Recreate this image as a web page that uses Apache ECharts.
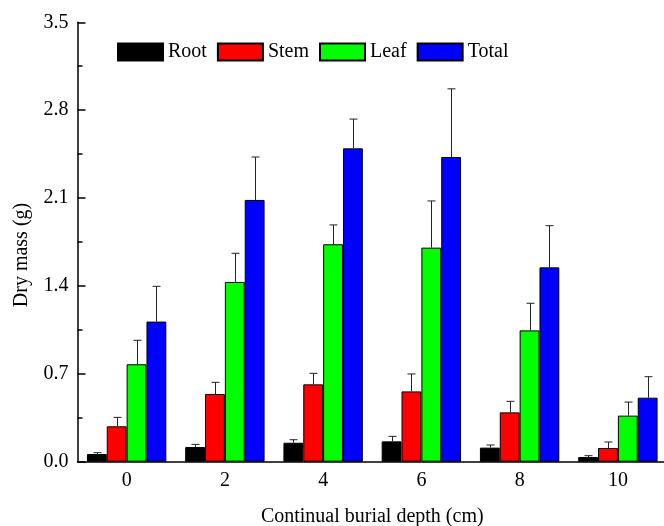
<!DOCTYPE html>
<html>
<head>
<meta charset="utf-8">
<script src="https://cdn.jsdelivr.net/npm/echarts@6/dist/echarts.min.js"></script>
<style>
  html, body { margin: 0; padding: 0; background: #fff; }
  #chart { width: 664px; height: 526px; }
</style>
</head>
<body>
<div id="chart"></div>
<script>
// burial depth categories (cm)
var categories = ['0', '2', '4', '6', '8', '10'];

// mean dry mass (g)
var rootMean  = [0.061, 0.117, 0.151, 0.162, 0.112, 0.037];
var stemMean  = [0.282, 0.539, 0.616, 0.560, 0.393, 0.109];
var leafMean  = [0.776, 1.432, 1.732, 1.705, 1.046, 0.367];
var totalMean = [1.116, 2.085, 2.496, 2.427, 1.548, 0.510];

// error bars (upper, SD)
var rootErr  = [0.011, 0.021, 0.024, 0.040, 0.021, 0.011];
var stemErr  = [0.071, 0.093, 0.088, 0.139, 0.088, 0.048];
var leafErr  = [0.191, 0.228, 0.154, 0.372, 0.216, 0.108];
var totalErr = [0.281, 0.342, 0.233, 0.543, 0.332, 0.167];

var yTicks = [0, 0.7, 1.4, 2.1, 2.8, 3.5];

var FONT = "'Liberation Serif', 'Times New Roman', serif";
var BAR_FRAC = 0.202;   // bar width as part of the category band

var names  = ['Root', 'Stem', 'Leaf', 'Total'];
var colors = ['#000000', '#ff0000', '#00ff00', '#0000ff'];
var means  = [rootMean, stemMean, leafMean, totalMean];
var errs   = [rootErr, stemErr, leafErr, totalErr];

var chart = echarts.init(document.getElementById('chart'));

var series = [];
names.forEach(function (name, k) {
  series.push({
    name: name,
    type: 'bar',
    data: means[k],
    barWidth: (BAR_FRAC * 100) + '%',
    barGap: '0%',
    itemStyle: { color: colors[k], borderColor: '#000', borderWidth: 1 },
    emphasis: { disabled: true }
  });
});

// error bars drawn through the axes
names.forEach(function (name, k) {
  series.push({
    type: 'custom',
    data: means[k].map(function (m, i) { return [i, m, m + errs[k][i]]; }),
    encode: { x: 0, y: [1, 2] },
    z: 10,
    silent: true,
    renderItem: function (params, api) {
      var c = api.value(0);
      var bot = api.coord([c, api.value(1)]);
      var top = api.coord([c, api.value(2)]);
      var band = api.size([1, 0])[0];
      var x = Math.round(bot[0] + (k - 1.5) * band * BAR_FRAC) + 0.5;
      var st = { stroke: '#222', lineWidth: 1 };
      return {
        type: 'group',
        children: [
          { type: 'line', shape: { x1: x, y1: bot[1], x2: x, y2: top[1] }, style: st },
          { type: 'line', shape: { x1: x - 4, y1: top[1], x2: x + 4, y2: top[1] }, style: st }
        ]
      };
    }
  });
});

chart.setOption({
  animation: false,
  backgroundColor: '#fff',
  textStyle: { fontFamily: FONT, color: '#000' },
  legend: {
    data: names,
    left: 112,
    top: 37,
    icon: 'rect',
    itemWidth: 45,
    itemHeight: 17,
    itemGap: 10,
    textStyle: { fontFamily: FONT, fontSize: 20, color: '#000' }
  },
  grid: { left: 77.5, right: -3, top: 22.3, bottom: 64.3, outerBoundsMode: 'none' },
  xAxis: {
    type: 'category',
    data: categories,
    name: 'Continual burial depth (cm)',
    nameLocation: 'middle',
    nameGap: 45,
    nameTextStyle: { fontFamily: FONT, fontSize: 20, color: '#000' },
    axisLine: { lineStyle: { color: '#000', width: 1.5 } },
    axisTick: { inside: true, length: 4, lineStyle: { color: '#000', width: 1.5 } },
    axisLabel: { fontFamily: FONT, fontSize: 20, color: '#000', margin: 9 },
    splitLine: { show: false }
  },
  yAxis: {
    type: 'value',
    min: yTicks[0],
    max: yTicks[yTicks.length - 1],
    interval: yTicks[1] - yTicks[0],
    name: 'Dry mass (g)',
    nameLocation: 'middle',
    nameGap: 46,
    nameTextStyle: { fontFamily: FONT, fontSize: 20, color: '#000', padding: [0, 26, 0, 0] },
    axisLine: { show: true, lineStyle: { color: '#000', width: 1.5 } },
    axisTick: { show: true, inside: true, length: 8, lineStyle: { color: '#000', width: 1.5 } },
    minorTick: { show: true, splitNumber: 2, length: 5, lineStyle: { color: '#000', width: 1.5 } },
    axisLabel: {
      fontFamily: FONT, fontSize: 20, color: '#000', margin: 9,
      formatter: function (v) { return v.toFixed(1); }
    },
    splitLine: { show: false }
  },
  series: series
});
</script>
</body>
</html>
